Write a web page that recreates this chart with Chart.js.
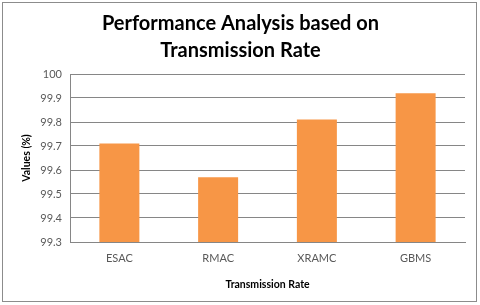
<!DOCTYPE html>
<html><head><meta charset="utf-8">
<script src="https://cdn.jsdelivr.net/npm/chart.js@4"></script>
<style>html,body{margin:0;padding:0;background:#fff}#w{width:480px;height:305px;position:relative}</style>
</head><body><div id="w"><canvas id="c" width="480" height="305"></canvas></div>
<script>
const categories = ["ESAC", "RMAC", "XRAMC", "GBMS"];
const values = [99.71, 99.57, 99.81, 99.92];
const yTicks = [99.3, 99.4, 99.5, 99.6, 99.7, 99.8, 99.9, 100];
const titleLines = ["Performance Analysis based on", "Transmission Rate"];
const xTitle = "Transmission Rate";
const yTitle = "Values (%)";

const borderPlugin = {
  id: 'frame',
  afterDraw(chart) {
    const ctx = chart.ctx;
    ctx.save();
    ctx.strokeStyle = '#8c8c8c';
    ctx.lineWidth = 1;
    ctx.strokeRect(2.5, 2.5, 474, 299);
    ctx.restore();
  }
};

new Chart(document.getElementById('c'), {
  type: 'bar',
  data: { labels: categories, datasets: [{ data: values, backgroundColor: '#F79646', barPercentage: 1, categoryPercentage: 0.405 }] },
  options: {
    responsive: false, animation: false,
    layout: { padding: { top: 8, left: 16, right: 15, bottom: 10 } },
    plugins: {
      legend: { display: false }, tooltip: { enabled: false },
      title: { display: true, text: titleLines, color: '#000', font: { family: 'Lato', size: 20, weight: 'bold', lineHeight: 1.35 }, padding: { top: 2, bottom: 10 } }
    },
    scales: {
      x: {
        grid: { display: false, drawTicks: false },
        border: { color: '#868686' },
        ticks: { color: '#595959', font: { family: 'Lato', size: 11 }, padding: 10 },
        title: { display: true, text: xTitle, color: '#000', font: { family: 'Lato', size: 10.5, weight: 'bold' }, padding: { top: 5 } },
        afterFit(s) { s.height = 53; }
      },
      y: {
        min: 99.3, max: 100,
        afterBuildTicks(s) { s.ticks = yTicks.map(v => ({ value: v })); },
        grid: { color: '#868686', drawTicks: false },
        border: { color: '#868686' },
        ticks: { color: '#595959', font: { family: 'Lato', size: 11 }, padding: 8, callback: v => String(Math.round(v * 10) / 10) },
        title: { display: true, text: yTitle, color: '#000', font: { family: 'Lato', size: 10.5, weight: 'bold' }, padding: { bottom: 4 } },
        afterFit(s) { s.width = 54; }
      }
    }
  },
  plugins: [borderPlugin]
});
</script></body></html>
